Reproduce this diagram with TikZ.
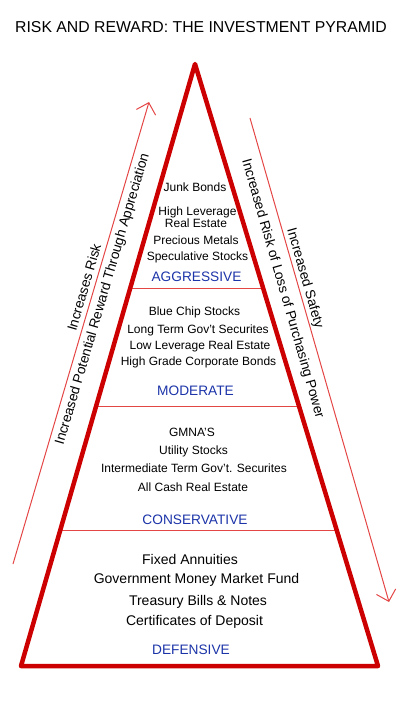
\documentclass[tikz,border=0pt]{standalone}
\usepackage{fontspec}
\setmainfont{Liberation Sans}
\usepackage{xcolor}
\usetikzlibrary{arrows.meta,calc}
\definecolor{pyrred}{RGB}{204,0,0}
\definecolor{linered}{RGB}{228,70,70}
\definecolor{tierblue}{RGB}{28,52,168}
\tikzset{
  edge/.style={draw=pyrred,line width=4.5pt,line join=round},
  tierline/.style={draw=linered,line width=1.3pt},
  trend/.style={draw=linered,line width=1pt,-{Straight Barb[length=10pt,width=20pt]}},
  item/.style={anchor=base,inner sep=0pt,font=\fontsize{12}{12}\selectfont},
  bigitem/.style={anchor=base,inner sep=0pt,font=\fontsize{14}{14}\selectfont},
  tier/.style={anchor=base,inner sep=0pt,text=tierblue,font=\fontsize{13.7}{14}\selectfont},
  side/.style={sloped,inner sep=0pt,font=\fontsize{13.7}{14}\selectfont},
}

\begin{document}
\begin{tikzpicture}[x=1pt,y=-1pt]
\useasboundingbox (0,0) rectangle (400,702);
\node[anchor=base,inner sep=0pt,font=\fontsize{15.8}{16}\selectfont] (title) at (201,32) {RISK AND REWARD: THE INVESTMENT PYRAMID};
% pyramid and tiers
\coordinate (apex) at (195,64);
\coordinate (bl) at (21,666);
\coordinate (br) at (378,666);
\foreach \f in {0.373,0.569,0.775} \draw[tierline] ($(apex)!\f!(bl)$) -- ($(apex)!\f!(br)$);
\draw[edge] (apex) -- (bl) -- (br) -- cycle;
\foreach \x/\y/\t [count=\i] in {195/191/Junk Bonds,197.5/215.5/High Leverage,196/227/Real Estate,196/244/Precious Metals,197.5/260/Speculative Stocks,194.5/315.5/Blue Chip Stocks,198/333/Long Term Gov't Securites,200/349/Low Leverage Real Estate,198.5/365/High Grade Corporate Bonds,192/436/GMNA'S,193.5/454/Utility Stocks,194/472/Intermediate Term Gov't. Securites,193/491/All Cash Real Estate} \node[item] (item\i) at (\x,\y) {\t};
\foreach \x/\y/\t [count=\i] in {190/564/Fixed Annuities,196.5/583/Government Money Market Fund,198/605/Treasury Bills \& Notes,194.5/625/Certificates of Deposit} \node[bigitem] (safe\i) at (\x,\y) {\t};
\foreach \x/\y/\t in {196.5/281/AGGRESSIVE,195.5/395/MODERATE,195/524/CONSERVATIVE,191/654/DEFENSIVE} \node[tier] (\t) at (\x,\y) {\t};
% side arrows
\coordinate (riskbot) at (13,564);
\coordinate (risktop) at (149,102);
\draw[trend] (riskbot) -- (risktop) node[side,pos=0.593,above=4.5pt] (risk) {Increases Risk} node[side,pos=0.58,below=4.5pt] (reward) {Increased Potential Reward Through Appreciation};
\coordinate (safetop) at (250,118);
\coordinate (safebot) at (389,602);
\draw[trend] (safetop) -- (safebot) node[side,pos=0.336,above=1.5pt] (safety) {Increased Safety} node[side,pos=0.344,below=9pt] (power) {Increased Risk of Loss of Purchasing Power};
\end{tikzpicture}
\end{document}
